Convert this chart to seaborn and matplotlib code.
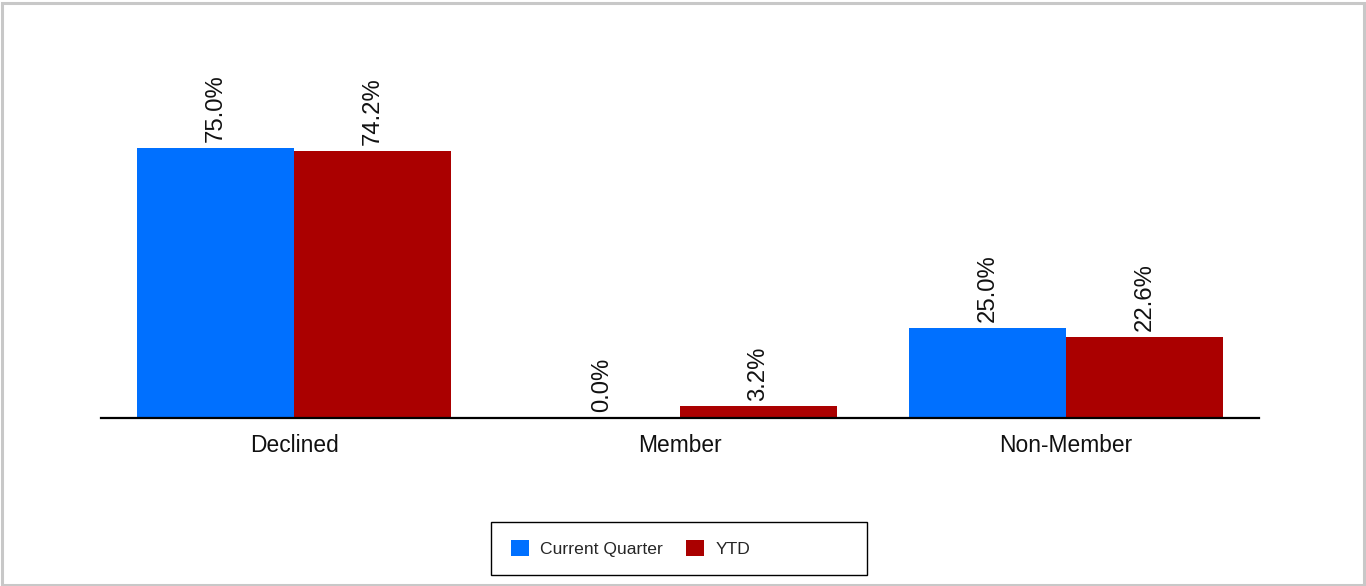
import matplotlib
matplotlib.use("Agg")
import matplotlib.pyplot as plt
import seaborn as sns
import pandas as pd
from matplotlib.patches import Rectangle

categories = ["Declined", "Member", "Non-Member"]
current_quarter = [75.0, 0.0, 25.0]
ytd = [74.2, 3.2, 22.6]
series_names = ["Current Quarter", "YTD"]
colors = ["#0070FF", "#AA0000"]

df = pd.DataFrame({
    "category": categories * 2,
    "series": [series_names[0]] * len(categories) + [series_names[1]] * len(categories),
    "value": current_quarter + ytd,
})

sns.set_theme(style="white")
plt.rcParams["font.family"] = ["Liberation Sans", "DejaVu Sans"]

W, H = 1366, 586
fig = plt.figure(figsize=(W / 100, H / 100), dpi=100)
ax = fig.add_axes([101 / W, (H - 418) / H, (1259 - 101) / W, (418 - 40) / H])

sns.barplot(data=df, x="category", y="value", hue="series", palette=colors,
            width=0.812, gap=0, saturation=1, linewidth=0, ax=ax, legend=True)

for container in ax.containers:
    ax.bar_label(container, fmt="%.1f%%", rotation=90, padding=4, fontsize=17.2, color="#111111")

ax.set_xlim(-0.5, 2.5)
ax.set_ylim(0, 105)
ax.set_xlabel("")
ax.set_ylabel("")
ax.set_yticks([])
for side in ["top", "left", "right"]:
    ax.spines[side].set_visible(False)
ax.spines["bottom"].set_color("black")
ax.spines["bottom"].set_linewidth(1.6)
ax.tick_params(axis="x", length=0, pad=11.5, labelsize=16.4, labelcolor="#111111")

handles, labels = ax.get_legend_handles_labels()
ax.legend_.remove()
leg = fig.legend(handles, labels, loc="center left", ncol=2,
                 bbox_to_anchor=(511 / W, (H - 548.5) / H),
                 frameon=False, fontsize=12.6,
                 handlelength=1.0, handleheight=1.0, handletextpad=0.68,
                 columnspacing=1.3, borderpad=0, borderaxespad=0)

# legend box
fig.patches.append(Rectangle((491 / W, (H - 575) / H), 376 / W, 53 / H,
                             transform=fig.transFigure, fill=False,
                             edgecolor="black", linewidth=1.0))

# outer border
fig.patches.append(Rectangle((1.5 / W, 1.5 / H), (W - 4) / W, (H - 4) / H,
                             transform=fig.transFigure, fill=False,
                             edgecolor="#c8c8c8", linewidth=2.2))

fig.savefig("out.png", dpi=100, facecolor="white")
